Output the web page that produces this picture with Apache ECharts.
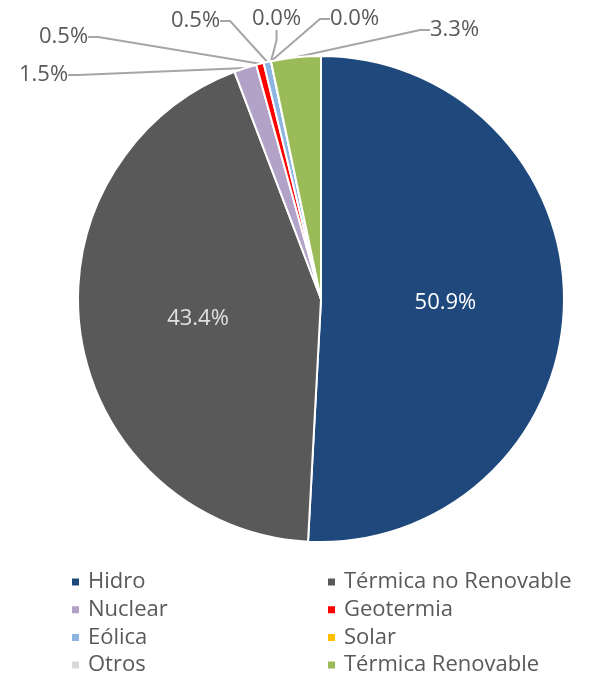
<!DOCTYPE html>
<html>
<head>
<meta charset="utf-8">
<script src="https://cdn.jsdelivr.net/npm/echarts@6/dist/echarts.min.js"></script>
<style>
  html, body { margin: 0; padding: 0; background: #fff; }
  #chart { width: 600px; height: 676px; }
</style>
</head>
<body>
<div id="chart"></div>
<script>
  // generación por fuente (%)
  var categories = ['Hidro', 'Térmica no Renovable', 'Nuclear', 'Geotermia', 'Eólica', 'Solar', 'Otros', 'Térmica Renovable']
  var shares = [50.9, 43.4, 1.5, 0.5, 0.5, 0.0, 0.0, 3.3]
  var colors = ['#1F497D', '#595959', '#B3A2C7', '#FF0000', '#8DB4E2', '#FFC000', '#D9D9D9', '#9BBB59']
  var insideLabels = [true, true, false, false, false, false, false, false]

  // where the outside labels sit (Excel-like placement)
  var labelSpots = {
    2: { x: 19, y: 75 },
    3: { x: 39, y: 37 },
    4: { x: 171, y: 21 },
    5: { x: 252, y: 19 },
    6: { x: 330, y: 19 },
    7: { x: 430, y: 30 }
  }

  var font = '"Open Sans", sans-serif'
  var chart = echarts.init(document.getElementById('chart'))

  var legendText = { color: '#595959', fontSize: 22, lineHeight: 22, fontFamily: font, padding: [0, 0, 0, 3] }

  chart.setOption({
    animation: false,
    color: colors,
    legend: [
      {
        orient: 'vertical',
        left: 65,
        top: 566,
        height: 120,
        itemWidth: 9,
        itemHeight: 9,
        itemGap: 5.7,
        icon: 'rect',
        data: [categories[0], categories[2], categories[4], categories[6]],
        textStyle: legendText
      },
      {
        orient: 'vertical',
        left: 321,
        top: 566,
        height: 120,
        itemWidth: 9,
        itemHeight: 9,
        itemGap: 5.7,
        icon: 'rect',
        data: [categories[1], categories[3], categories[5], categories[7]],
        textStyle: legendText
      }
    ],
    series: [
      {
        type: 'pie',
        center: [321, 299],
        radius: 243,
        startAngle: 90,
        clockwise: true,
        avoidLabelOverlap: false,
        itemStyle: { borderColor: '#fff', borderWidth: 2 },
        emphasis: { disabled: true },
        labelLine: {
          show: true,
          length: 10,
          length2: 10,
          lineStyle: { color: '#A6A6A6', width: 2 }
        },
        labelLayout: function (params) {
          var spot = labelSpots[params.dataIndex]
          if (!spot) return {}
          return { x: spot.x, y: spot.y, align: 'left', verticalAlign: 'middle' }
        },
        data: categories.map(function (name, i) {
          return {
            name: name,
            value: shares[i],
            label: insideLabels[i] ? {
              position: 'inside',
              color: i === 0 ? '#ffffff' : '#E0E0E0',
              fontSize: 22,
              fontFamily: font
            } : {
              position: 'outside',
              color: '#595959',
              fontSize: 22,
              fontFamily: font
            },
            labelLine: { show: !insideLabels[i] }
          }
        }),
        label: {
          formatter: function (p) { return p.value.toFixed(1) + '%' }
        }
      }
    ]
  })
</script>
</body>
</html>
